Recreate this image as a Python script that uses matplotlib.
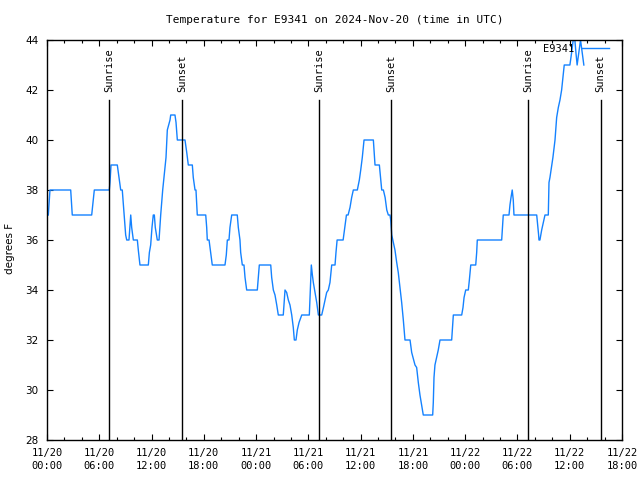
import matplotlib
matplotlib.use("Agg")
import matplotlib.pyplot as plt
import matplotlib.transforms as mtransforms

# hours since 2024-11-20 00:00 UTC
hours = [0.15, 0.34, 2.72, 2.90, 5.13, 5.43, 7.15, 7.23, 7.35, 8.07, 8.26, 8.46, 8.64, 8.84,
         9.03, 9.15, 9.41, 9.61, 9.72, 9.91, 10.37, 10.48, 10.67, 11.63, 11.75, 11.90, 12.05,
         12.20, 12.32, 12.43, 12.66, 12.86, 13.05, 13.28, 13.54, 13.66, 13.81, 14.12, 14.20,
         14.69, 14.81, 14.96, 15.84, 16.04, 16.22, 16.68, 16.79, 16.99, 17.10, 17.25, 18.22,
         18.33, 18.40, 18.60, 18.71, 18.97, 20.43, 20.58, 20.70, 20.89, 21.00, 21.20, 21.84,
         21.96, 22.15, 22.23, 22.42, 22.61, 22.73, 22.92, 24.14, 24.26, 24.37, 25.68, 25.79,
         25.98, 26.17, 26.37, 26.55, 27.12, 27.32, 27.51, 27.70, 27.89, 28.09, 28.27, 28.39,
         28.58, 28.73, 28.93, 29.24, 30.11, 30.34, 30.46, 30.57, 30.77, 30.96, 31.15, 31.53,
         31.73, 31.91, 32.10, 32.29, 32.48, 32.68, 33.06, 33.17, 33.30, 33.99, 34.18, 34.37,
         34.56, 34.78, 34.97, 35.16, 35.62, 35.85, 36.01, 36.19, 36.39, 37.46, 37.65, 38.15,
         38.31, 38.42, 38.61, 38.81, 39.00, 39.18, 39.37, 39.45, 39.57, 39.76, 39.94, 40.14,
         40.32, 40.52, 40.71, 40.90, 41.09, 41.67, 41.86, 42.24, 42.43, 42.62, 42.81, 43.00,
         43.19, 44.27, 44.34, 44.42, 44.53, 44.72, 44.91, 45.11, 46.45, 46.64, 47.60, 47.75,
         47.87, 48.06, 48.36, 48.48, 48.64, 49.21, 49.32, 49.39, 52.19, 52.31, 52.37, 53.03,
         53.14, 53.26, 53.40, 53.52, 53.60, 56.21, 56.32, 56.43, 56.47, 56.58, 56.78, 56.97,
         57.16, 57.54, 57.62, 57.73, 58.07, 58.31, 58.50, 58.69, 58.88, 59.07, 59.22, 59.37,
         60.02, 60.22, 60.40, 60.59, 60.71, 60.85, 61.05, 61.24, 61.39, 61.62]
temps = [37, 38, 38, 37, 37, 38, 38, 38.3, 39, 39, 38.5, 38, 38, 37.1,
         36.2, 36, 36, 37, 36.5, 36, 36, 35.6, 35, 35, 35.5, 35.8, 36.5,
         37, 37, 36.5, 36, 36, 37, 38, 38.9, 39.3, 40.4, 40.8, 41,
         41, 40.7, 40, 40, 39.5, 39, 39, 38.5, 38, 38, 37, 37,
         36.5, 36, 36, 35.7, 35, 35, 35.4, 36, 36, 36.5, 37, 37,
         36.5, 36, 35.5, 35, 35, 34.5, 34, 34, 34.5, 35, 35, 34.5,
         34, 33.8, 33.4, 33, 33, 34, 33.9, 33.6, 33.4, 33, 32.5, 32,
         32, 32.4, 32.7, 33, 33, 35, 34.6, 34.3, 33.9, 33.5, 33, 33,
         33.3, 33.6, 33.9, 34, 34.3, 35, 35, 35.5, 36, 36, 36.5, 37,
         37, 37.3, 37.7, 38, 38, 38.4, 38.8, 39.3, 40, 40, 39, 39,
         38.4, 38, 38, 37.7, 37.2, 37, 37, 36.8, 36.2, 35.9, 35.6, 35.1,
         34.7, 34.1, 33.5, 32.8, 32, 32, 31.5, 31, 30.9, 30.3, 29.8, 29.4,
         29, 29, 29.5, 30.5, 31, 31.3, 31.6, 32, 32, 33, 33, 33.3,
         33.7, 34, 34, 34.4, 35, 35, 35.5, 36, 36, 36.7, 37, 37,
         37.4, 37.7, 38, 37.6, 37, 37, 36.6, 36.2, 36, 36, 36.4, 36.7,
         37, 37, 38.3, 38.5, 39.3, 40, 40.9, 41.3, 41.6, 42, 42.5, 43,
         43, 43.5, 44, 44, 43.5, 43, 43.5, 44, 43.6, 43]

sunrise = [7.15, 31.26, 55.25]
sunset = [15.50, 39.52, 63.55]

tick_hours = [0, 6, 12, 18, 24, 30, 36, 42, 48, 54, 60, 66]
tick_labels = ["11/20\n00:00", "11/20\n06:00", "11/20\n12:00", "11/20\n18:00",
               "11/21\n00:00", "11/21\n06:00", "11/21\n12:00", "11/21\n18:00",
               "11/22\n00:00", "11/22\n06:00", "11/22\n12:00", "11/22\n18:00"]
y_ticks = [28, 30, 32, 34, 36, 38, 40, 42, 44]

mono = "DejaVu Sans Mono"

fig = plt.figure(figsize=(6.4, 4.8), dpi=100)
ax = fig.add_axes([47 / 640, 40 / 480, 575 / 640, 400 / 480])

ax.plot(hours, temps, color="#1482ff", lw=1.0, label="E9341")

ax.set_xlim(0, 66)
ax.set_ylim(28, 44)

# sunrise / sunset markers
trans = mtransforms.blended_transform_factory(ax.transData, ax.transAxes)
for t in sunrise:
    ax.axvline(t, 0, 0.85, color="black", lw=1.0)
    ax.text(t, 0.87, "Sunrise", transform=trans, rotation=90, ha="center", va="bottom",
            family=mono, fontsize=7.5)
for t in sunset:
    ax.axvline(t, 0, 0.85, color="black", lw=1.0)
    ax.text(t, 0.87, "Sunset", transform=trans, rotation=90, ha="center", va="bottom",
            family=mono, fontsize=7.5)

ax.set_xticks(tick_hours)
ax.set_xticklabels(tick_labels, family=mono, fontsize=7.5, linespacing=1.35)
ax.set_xticks(range(0, 67, 2), minor=True)
ax.set_yticks(y_ticks)
ax.set_yticklabels([str(v) for v in y_ticks], fontsize=7.5)

ax.tick_params(which="both", direction="in", top=True, right=True, color="black", width=0.8)
ax.tick_params(which="major", length=4.5)
ax.tick_params(which="minor", length=2.2)
ax.tick_params(axis="x", which="major", pad=6)
ax.tick_params(axis="y", which="major", pad=6)

for s in ax.spines.values():
    s.set_color("black")
    s.set_linewidth(1.0)

ax.set_ylabel("degrees F", fontsize=7.5)
ax.yaxis.set_label_coords(-0.056, 0.48)

ax.set_title("Temperature for E9341 on 2024-Nov-20 (time in UTC)", family=mono,
             fontsize=8, pad=12)

ax.legend(loc="center right", bbox_to_anchor=(0.977, 0.9775), frameon=False,
          markerfirst=False, handlelength=2.6, handletextpad=0.7, borderpad=0,
          borderaxespad=0, prop={"family": mono, "size": 7.5})

fig.savefig("out.png", dpi=100)
